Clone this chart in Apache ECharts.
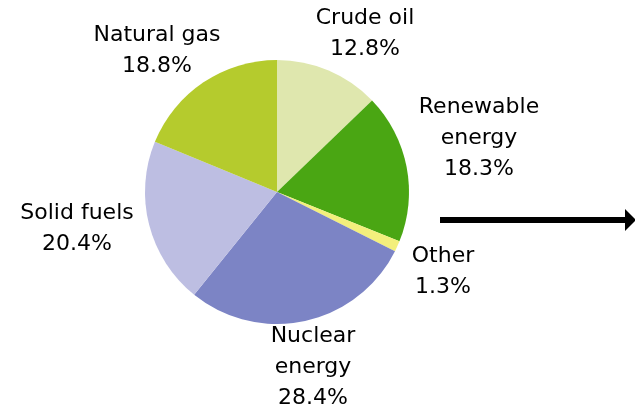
<!DOCTYPE html>
<html>
<head>
<meta charset="utf-8">
<script src="https://cdn.jsdelivr.net/npm/echarts@6/dist/echarts.min.js"></script>
<style>
html,body{margin:0;padding:0;background:#fff;}
#chart{width:635px;height:414px;}
</style>
</head>
<body>
<div id="chart"></div>
<script>
// Data (clockwise from 12 o'clock)
const categories = ['Crude oil', 'Renewable energy', 'Other', 'Nuclear energy', 'Solid fuels', 'Natural gas'];
const labelNames = ['Crude oil', 'Renewable\nenergy', 'Other', 'Nuclear\nenergy', 'Solid fuels', 'Natural gas'];
const shares = [12.8, 18.3, 1.3, 28.4, 20.4, 18.8];

// Layout / style (not data)
const colors = ['#dfe7ae', '#4aa613', '#f3ef7c', '#7c84c5', '#bdbee2', '#b5cb2d'];
const labelPos = [[365, 34], [479, 138], [443, 272], [313, 367], [77, 229], [157, 51]];

const chart = echarts.init(document.getElementById('chart'), null, {renderer: 'canvas'});
chart.setOption({
  animation: false,
  backgroundColor: '#ffffff',
  series: [{
    type: 'pie',
    center: [277, 192],
    radius: 132,
    startAngle: 90,
    clockwise: true,
    avoidLabelOverlap: false,
    data: categories.map((c, i) => ({
      name: c,
      value: shares[i],
      itemStyle: {color: colors[i]}
    })),
    itemStyle: {borderWidth: 0},
    emphasis: {disabled: true},
    label: {
      show: true,
      position: 'outside',
      color: '#000',
      fontFamily: 'DejaVu Sans',
      fontSize: 22,
      lineHeight: 31,
      align: 'center',
      formatter: (p) => labelNames[p.dataIndex] + '\n' + p.value.toFixed(1) + '%'
    },
    labelLine: {show: false},
    labelLayout: (params) => {
      const p = labelPos[params.dataIndex];
      return {x: p[0], y: p[1], align: 'center', verticalAlign: 'middle'};
    }
  }],
  graphic: [
    {type: 'line', shape: {x1: 440, y1: 220, x2: 627, y2: 220}, style: {stroke: '#000', lineWidth: 6}},
    {type: 'polygon', shape: {points: [[625, 209], [636, 220], [625, 231]]}, style: {fill: '#000'}}
  ]
});
</script>
</body>
</html>
